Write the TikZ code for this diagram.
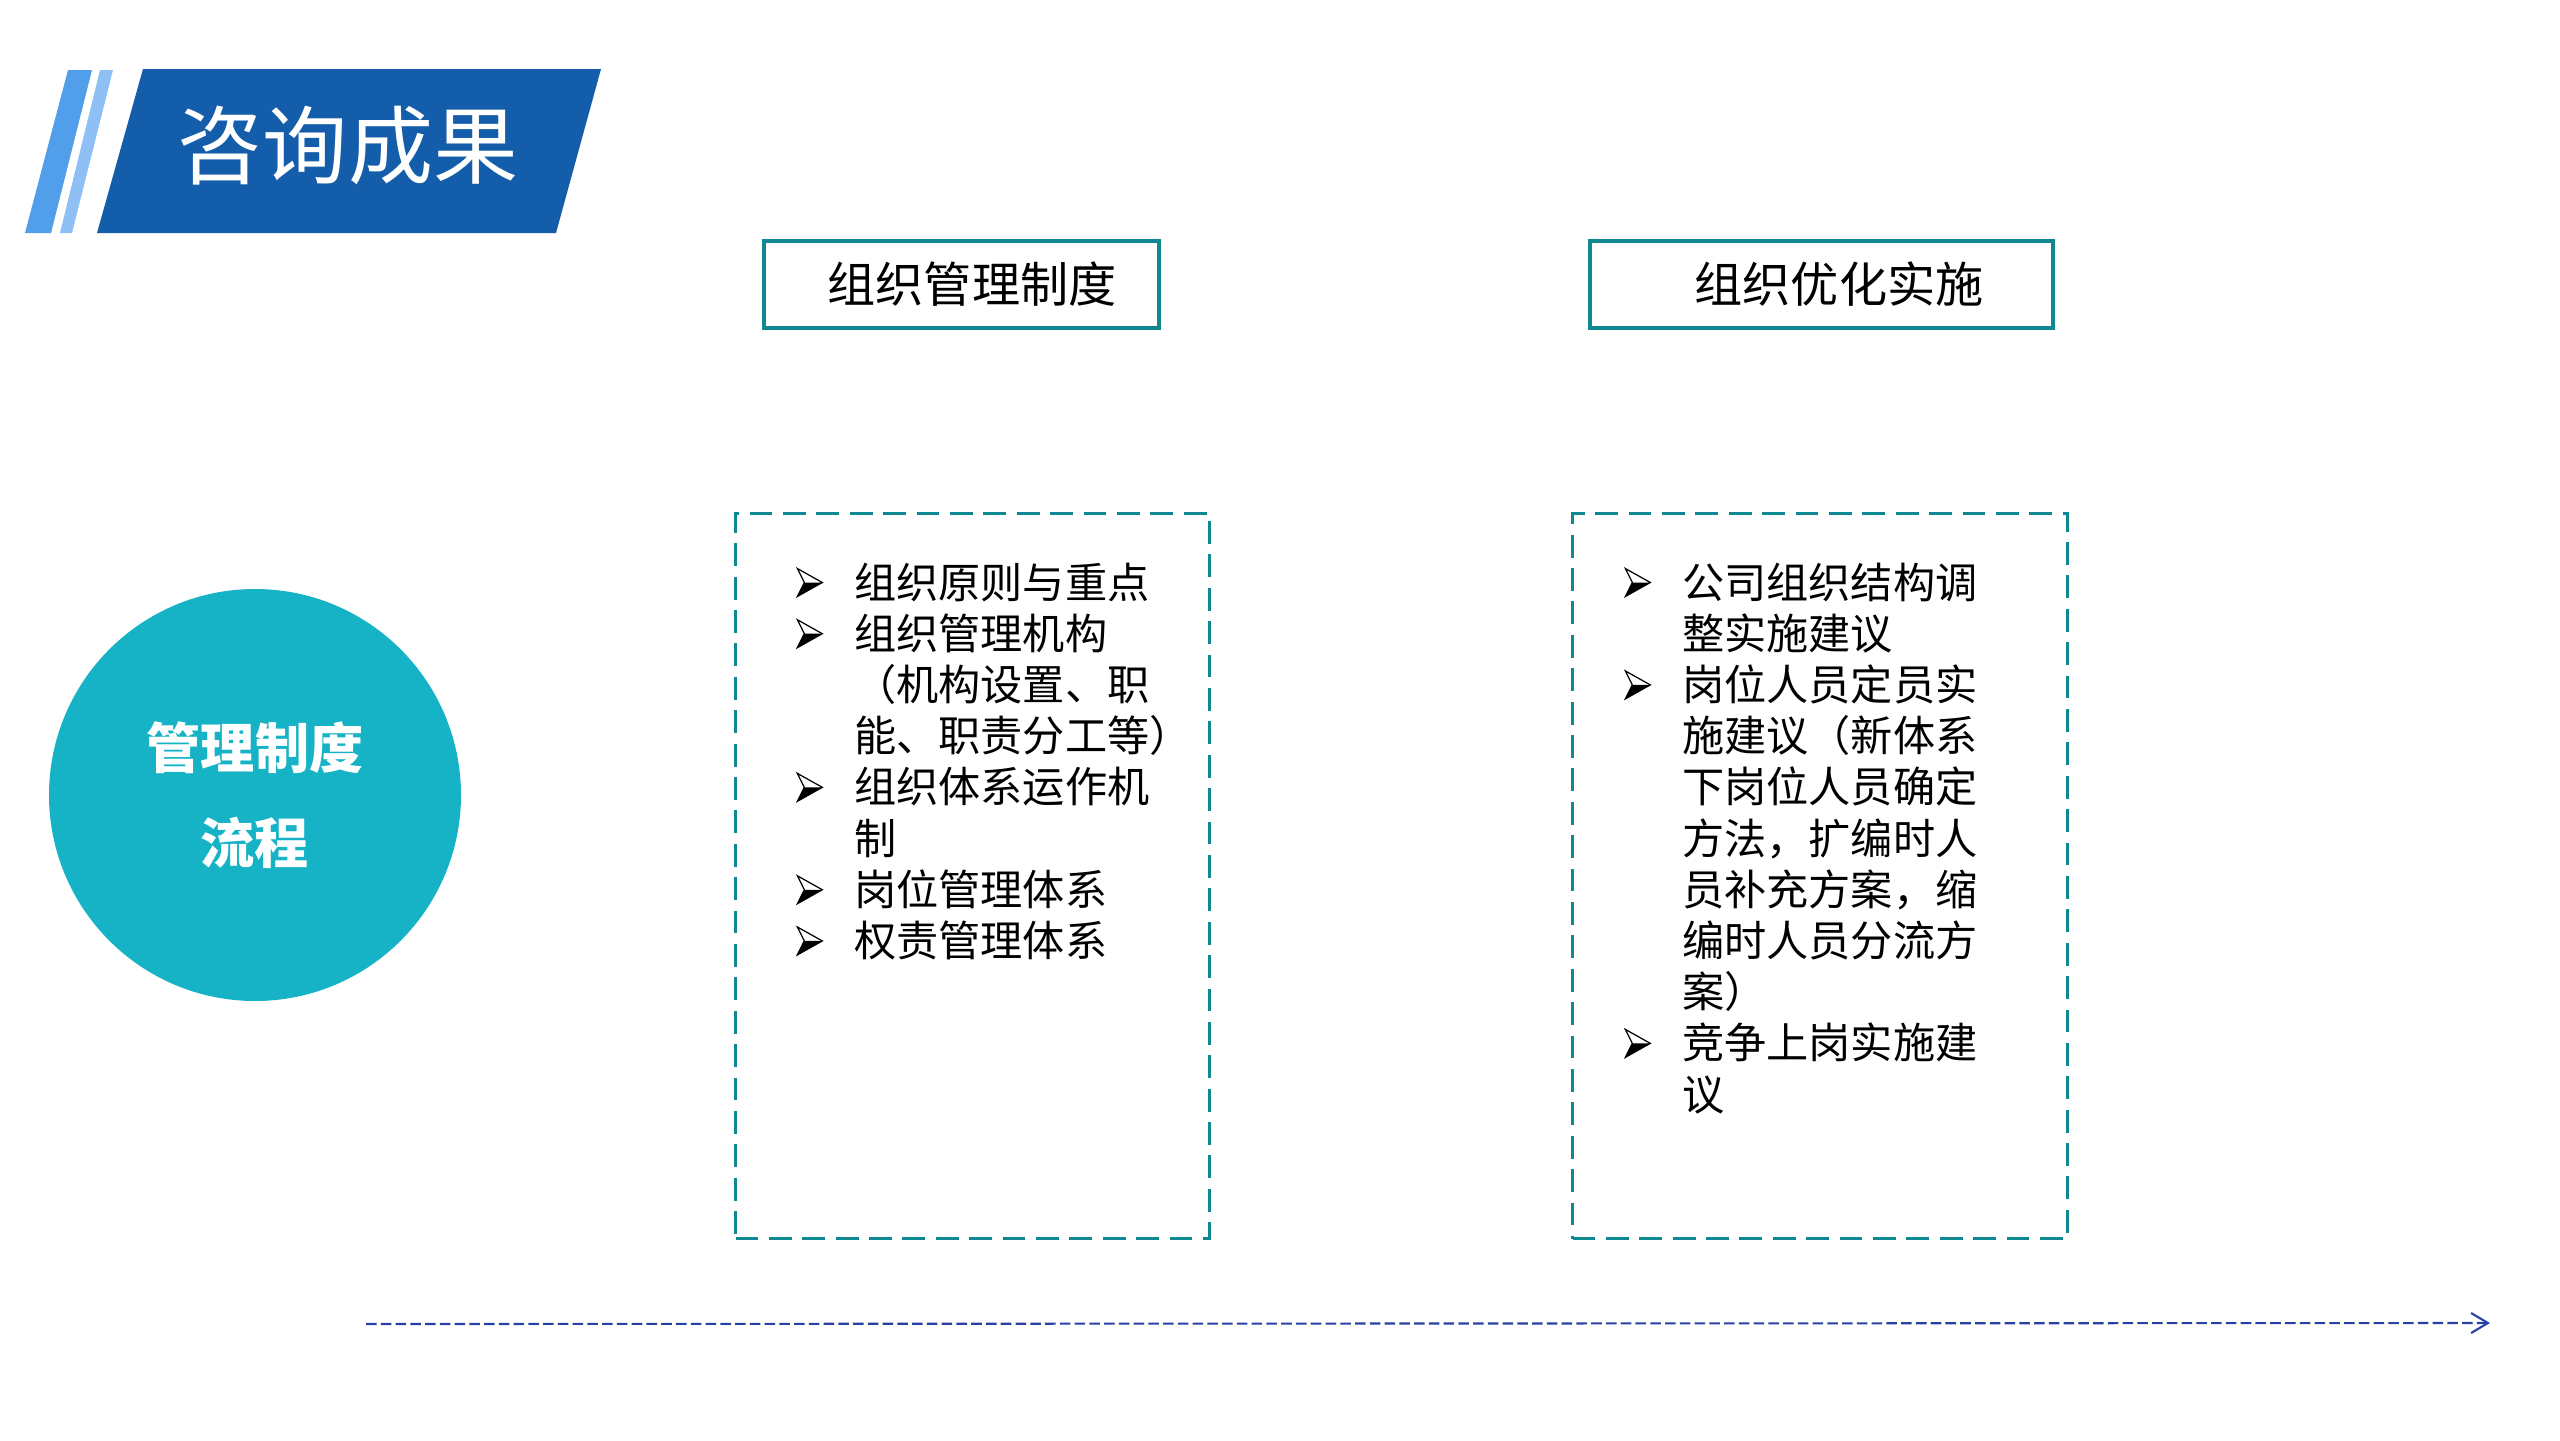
\documentclass[tikz,border=0pt]{standalone}
\usepackage{fontspec}
\setmainfont{Noto Sans CJK SC}
\usepackage{tikz}
\usetikzlibrary{arrows.meta}
\usetikzlibrary{positioning}
\definecolor{bandblue}{RGB}{19,93,171}
\definecolor{stripeblue}{RGB}{81,159,234}
\definecolor{stripelight}{RGB}{142,191,245}
\definecolor{boxteal}{RGB}{16,136,145}
\definecolor{discteal}{RGB}{21,179,197}
\definecolor{lineblue}{RGB}{40,64,165}
% arrowhead bullet, hanging items, forced line break
\newcommand{\bul}{\makebox[0.575cm][l]{\tikz[baseline=0pt, line width=0.35pt]{
    \draw (0,0.015)--(0.25,0.155)--(0,0.295)--(0.07,0.155)--cycle;
    \fill (0.07,0.155)--(0.25,0.155)--(0,0.015)--cycle;}}}
\newcommand{\itmhead}{\hangindent=0.575cm\hangafter=1\noindent\bul}
\newcommand{\itm}{\par\itmhead}
\newcommand{\nl}{\hfil\break}
\tikzset{
    headbox/.style={draw=boxteal, line width=1.1pt, minimum height=0.87cm, inner sep=0pt,
        font=\fontsize{13.7}{16}\selectfont},
    dashbox/.style={draw=boxteal, line width=1pt, dash pattern=on 6.5pt off 3pt,
        minimum height=7.25cm, inner sep=0pt},
    listtext/.style={text width=4.2cm, inner sep=0pt, anchor=base west,
        font=\fontsize{12}{14.57}\selectfont},
    disc/.style={circle, fill=discteal, minimum size=4.12cm, text=white, align=center,
        font=\bfseries\fontsize{15.4}{27}\selectfont},
    timeline/.style={draw=lineblue, line width=0.6pt, dash pattern=on 3pt off 1.2pt,
        -{Straight Barb[length=4.8pt,width=5.7pt]}},
}
\begin{document}
\begin{tikzpicture}
	\useasboundingbox (0,0) rectangle (25.6,-14.4);
	% title band
	\fill[stripeblue] (0.68,-0.70)--(0.92,-0.70)--(0.51,-2.33)--(0.25,-2.33)--cycle;
	\fill[stripelight] (1.00,-0.70)--(1.13,-0.70)--(0.72,-2.33)--(0.60,-2.33)--cycle;
	\fill[bandblue] (1.43,-0.69)--(6.01,-0.69)--(5.56,-2.33)--(0.97,-2.33)--cycle;
	\node[text=white, font=\fontsize{24.2}{29}\selectfont] (title) at (3.48,-1.46) {咨询成果};
	% headers
	\node[headbox, minimum width=3.95cm] (hdA) at (9.615,-2.845) {\hspace*{6pt}组织管理制度};
	\node[headbox, minimum width=4.63cm] (hdB) at (18.215,-2.845) {\hspace*{10pt}组织优化实施};
	% dashed boxes
	\node[dashbox, minimum width=4.74cm] (boxA) at (9.725,-8.76) {};
	\node[dashbox, minimum width=4.95cm] (boxB) at (18.2,-8.76) {};
	\node[listtext] (listA) at (7.96,-5.98) {
		\itmhead 组织原则与重点
		\itm 组织管理机构\nl（机构设置、职\nl 能、职责分工等）
		\itm 组织体系运作机\nl 制
		\itm 岗位管理体系
		\itm 权责管理体系\par
	};
	\node[listtext] (listB) at (16.24,-5.98) {
		\itmhead 公司组织结构调\nl 整实施建议
		\itm 岗位人员定员实\nl 施建议（新体系\nl 下岗位人员确定\nl 方法，扩编时人\nl 员补充方案，缩\nl 编时人员分流方\nl 案）
		\itm 竞争上岗实施建\nl 议\par
	};
	% left disc
	\node[disc] (flow) at (2.55,-7.95) {管理制度\\流程};
	% time line
	\coordinate (tl0) at (3.66,-13.24);
	\coordinate (tl1) at (24.9,-13.23);
	\draw[timeline] (tl0)--(tl1);
\end{tikzpicture}
\end{document}
